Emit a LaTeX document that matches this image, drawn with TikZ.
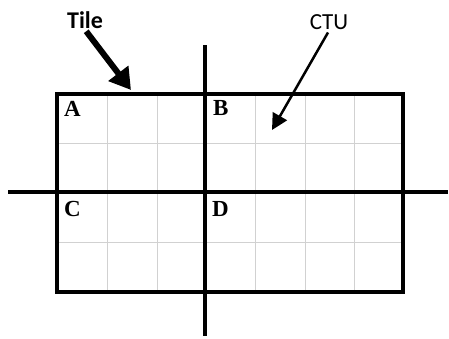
\documentclass[tikz,border=0pt]{standalone}
\usepackage{fontspec}
\setmainfont{Liberation Serif}
\newfontfamily\calfont{Carlito}
\usetikzlibrary{arrows.meta,positioning}

\tikzset{
  gridline/.style={black!18, line width=1pt},
  boldline/.style={black, line width=4pt},
  quad/.style={font=\fontsize{23}{23}\selectfont\bfseries, anchor=base west, inner sep=0pt},
  callout/.style={font=\calfont\fontsize{23}{23}\selectfont, inner sep=1pt}
}

\begin{document}
\begin{tikzpicture}[x=1pt,y=-1pt]
\useasboundingbox (0,0) rectangle (449,338);
% thin CTU grid
\foreach \x in {107,157,255,305,354}
    {
    \draw[gridline] (\x,94) -- (\x,292);
    }
\foreach \y in {143,242}
    {
    \draw[gridline] (57,\y) -- (403,\y);
    }
% tile borders
\draw[boldline, line join=miter] (57,94) rectangle (403,292);
\draw[boldline] (205,45) -- (205,336);
\draw[boldline] (8,192) -- (448,192);
% tile names
\node [quad] (A) at (64,116) {A};
\node [quad] (B) at (213,115) {B};
\node [quad] (C) at (64,216) {C};
\node [quad] (D) at (212,216) {D};
% callouts
\node [callout, font=\calfont\fontsize{24}{24}\selectfont\bfseries] (tile) at (85,20) {Tile};
\coordinate (tiletip) at (131,90);
\draw[line width=6pt, -{Triangle[length=21pt,width=24pt]}, shorten <=2pt] (tile.south) -- (tiletip);
\node [callout] (ctu) at (329,22) {CTU};
\coordinate (ctutip) at (272,130);
\draw[line width=2.5pt, -{Triangle[length=16pt,width=16pt]}, shorten <=2pt] (ctu.south) -- (ctutip);
\end{tikzpicture}
\end{document}
